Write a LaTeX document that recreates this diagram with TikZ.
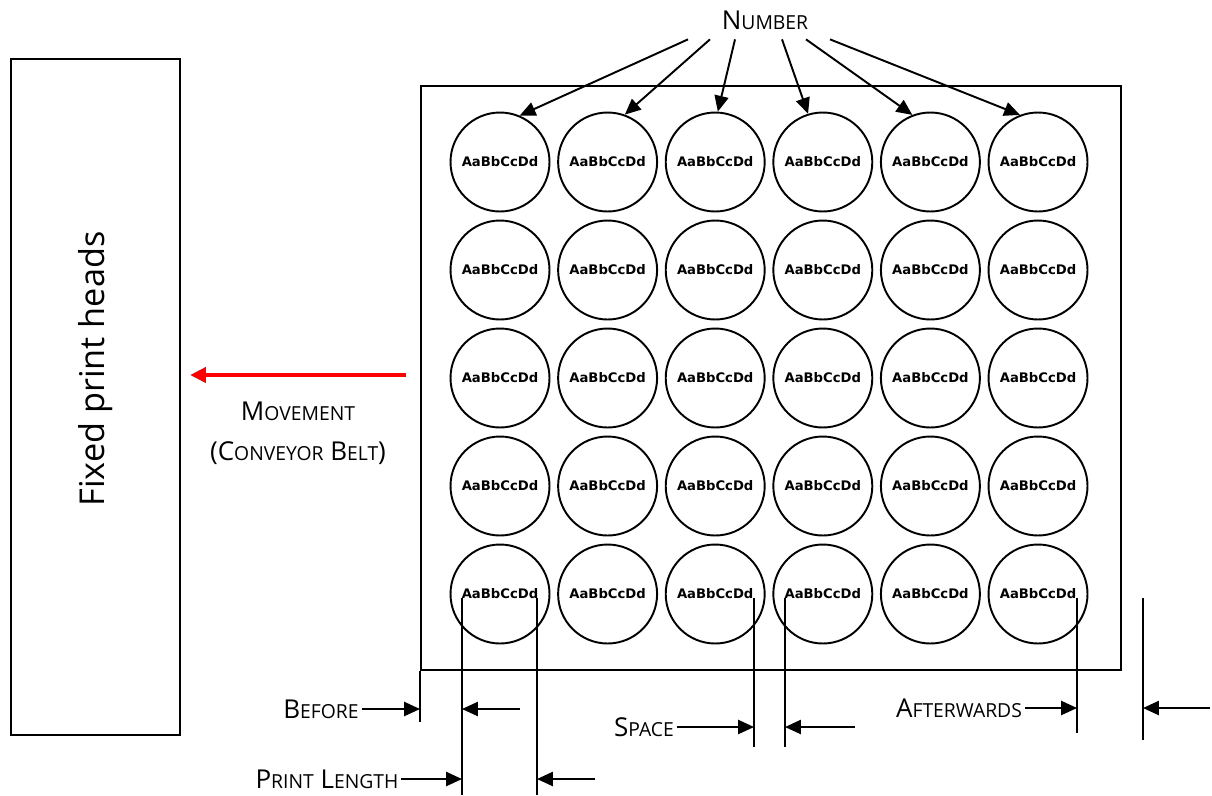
\documentclass[tikz,border=0pt]{standalone}
\usepackage{fontspec}
\setmainfont{Open Sans}
\newfontfamily\cellfont{DejaVu Sans}
\usetikzlibrary{arrows.meta,calc}
\newcommand{\fsc}[2]{#1{\fontsize{11}{13}\selectfont #2}}

\tikzset{
  cell/.style={draw, circle, line width=1.1pt, minimum size=1.98cm, inner sep=0pt,
    font=\cellfont\bfseries\fontsize{7.5}{8}\selectfont},
  lbl/.style={font=\fontsize{14.8}{17}\selectfont, inner sep=1.5pt},
  dim/.style={line width=1.1pt, -{Triangle[length=9pt,width=8pt]}},
  guide/.style={line width=1.1pt}
}

\begin{document}
\begin{tikzpicture}[x=0.02cm,y=-0.02cm]
\useasboundingbox (0,0) rectangle (1212,795);
% print heads and tray
\node[draw, line width=1.1pt, anchor=north west, minimum width=3.38cm, minimum height=13.52cm] (heads) at (10,58) {};
\node[rotate=90, font=\fontsize{19.5}{22}\selectfont] (headstxt) at ($(heads.center)+(0,-28)$) {Fixed print heads};
\node[draw, line width=1.1pt, anchor=north west, minimum width=14cm, minimum height=11.68cm] (tray) at (420,85) {};
% labels
\foreach \r in {1,...,5}
  \foreach \c in {1,...,6}
    \node[cell] (c\r\c) at ({500+(\c-1)*107.6},{162+(\r-1)*108}) {AaBbCcDd};
\node[lbl] (num) at (765,20) {\fsc{N}{UMBER}};
\foreach \c/\dx/\ang in {1/-77/67,2/-55/70,3/-30/87,4/17/107,5/41/111,6/65/111}
  \draw[dim] ($(num.south)+(\dx,7)$) -- (c1\c.\ang);
% movement
\coordinate (movefrom) at (406,375);
\coordinate (moveto) at (190,375);
\draw[red, line width=2.4pt, -{Triangle[length=9pt,width=8.5pt]}] (movefrom) -- (moveto);
\node[lbl] (move) at (298,411) {\fsc{M}{OVEMENT}};
\node[lbl] (belt) at (298,453) {(\fsc{C}{ONVEYOR} \fsc{B}{ELT})};
% dimension guides
\coordinate (gBefore) at (tray.south west);
\coordinate (gPrintA) at (462,598);
\coordinate (gPrintB) at (537,598);
\coordinate (gSpaceA) at (754,598);
\coordinate (gSpaceB) at (785,598);
\coordinate (gAfterA) at (1077,598);
\coordinate (gAfterB) at (1143,598);
\draw[guide] (gBefore) -- ++(0,51);
\draw[guide] (gPrintA) -- ++(0,197); \draw[guide] (gPrintB) -- ++(0,197);
\draw[guide] (gSpaceA) -- ++(0,149); \draw[guide] (gSpaceB) -- ++(0,149);
\draw[guide] (gAfterA) -- ++(0,135); \draw[guide] (gAfterB) -- ++(0,142);
% dimension labels
\node[lbl] (before) at (321,709) {\fsc{B}{EFORE}};
\node[lbl] (plen) at (327,779) {\fsc{P}{RINT} \fsc{L}{ENGTH}};
\node[lbl] (space) at (644,727) {\fsc{S}{PACE}};
\node[lbl] (after) at (959,708) {\fsc{A}{FTERWARDS}};
\coordinate (rBefore) at (520,709);
\coordinate (rPrint) at (595,779);
\coordinate (rSpace) at (855,727);
\coordinate (rAfter) at (1210,708);
\draw[dim] (before) -- (before -| gBefore);
\draw[dim] (rBefore) -- (rBefore -| gPrintA);
\draw[dim] (plen) -- (plen -| gPrintA);
\draw[dim] (rPrint) -- (rPrint -| gPrintB);
\draw[dim] (space) -- (space -| gSpaceA);
\draw[dim] (rSpace) -- (rSpace -| gSpaceB);
\draw[dim] (after) -- (after -| gAfterA);
\draw[dim] (rAfter) -- (rAfter -| gAfterB);
\end{tikzpicture}
\end{document}
